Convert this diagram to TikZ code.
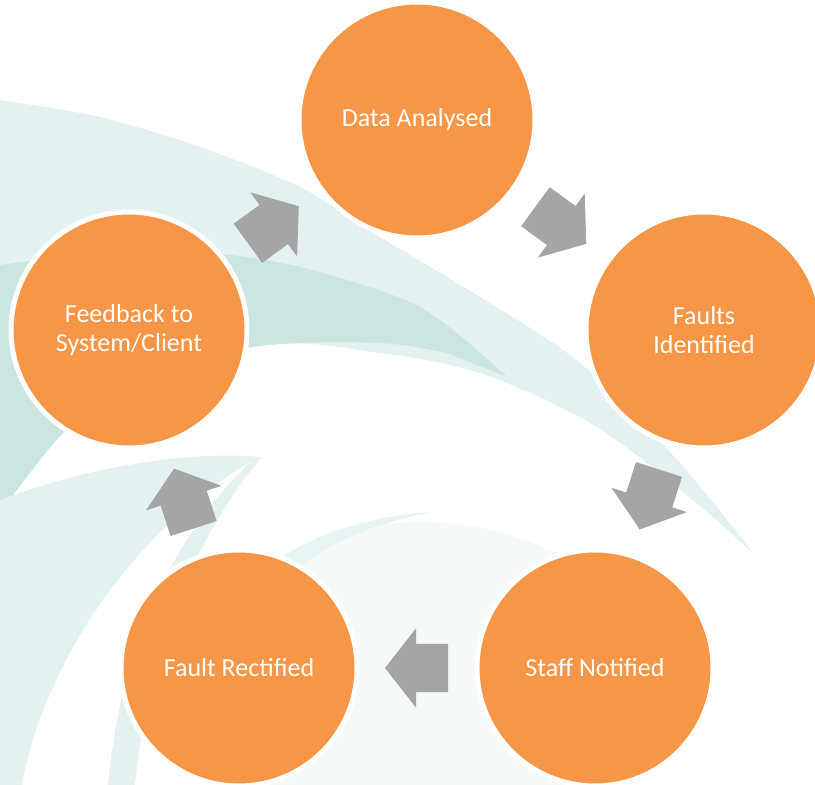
\documentclass[tikz,border=0pt]{standalone}
\usepackage{fontspec}
\setmainfont{Carlito}
\usetikzlibrary{shapes.arrows}

\definecolor{stageorange}{HTML}{F79646}
\definecolor{arrowgrey}{HTML}{A5A5A5}
\definecolor{tealpale}{HTML}{E3F1F0}
\definecolor{tealmid}{HTML}{CBE5E2}
\definecolor{tealfaint}{HTML}{F5F9F9}

\begin{document}
\begin{tikzpicture}[x=1pt, y=-1pt,
    stage/.style={circle, fill=stageorange, draw=white, line width=5pt, minimum size=236pt, inner sep=0pt,
      text=white, align=center, font=\fontsize{26}{29}\selectfont},
    blockarrow/.style={single arrow, fill=arrowgrey, draw=none, minimum height=63pt,
      single arrow head extend=15.5pt, single arrow tip angle=104, inner xsep=0pt, inner ysep=24pt,
      sloped, allow upside down, xshift=-9pt}]
      \useasboundingbox (0,0) rectangle (815,785);

      % swooshes behind the cycle
      \fill[tealpale] plot[smooth] coordinates {(0,100) (100,117) (200,147) (300,187) (380,237) (480,297) (580,363) (680,463) (753,553)}
        -- plot[smooth] coordinates {(713,517) (647,463) (580,417) (480,373) (380,353) (253,347) (0,420)} -- cycle;
      \fill[tealmid] plot[smooth] coordinates {(0,265) (100,253) (200,252) (300,267) (420,307) (507,377)}
        -- plot[smooth] coordinates {(447,353) (380,343) (253,347) (130,385) (63,433) (0,513)} -- cycle;
      \fill[tealpale] (0,500) .. controls (80,470) and (180,450) .. (262,457) .. controls (200,530) and (150,640) .. (135,785) -- (0,785) -- cycle;
      \fill[white] (22,785) .. controls (40,680) and (120,540) .. (250,462) .. controls (170,540) and (120,650) .. (108,785) -- cycle;
      \fill[tealfaint] (250,785) -- (260,575) .. controls (330,515) and (460,500) .. (570,560) -- (570,785) -- cycle;
      \fill[tealpale!70!tealfaint] (268,565) .. controls (320,530) and (380,515) .. (430,512) .. controls (370,525) and (320,545) .. (285,580) -- cycle;

      \node[stage] (da) at (417,120) {Data Analysed};
      \node[stage] (fi) at (704,330) {Faults\\Identified};
      \node[stage] (sn) at (595,668) {Staff Notified};
      \node[stage] (fr) at (239,668) {Fault Rectified};
      \node[stage] (fb) at (129,330) {Feedback to\\System/Client};

      \path (da) -- node[blockarrow] {} (fi);
      \path (fi) -- node[blockarrow] {} (sn);
      \path (sn) -- node[blockarrow] {} (fr);
      \path (fr) -- node[blockarrow] {} (fb);
      \path (fb) -- node[blockarrow] {} (da);
    \end{tikzpicture}
\end{document}
